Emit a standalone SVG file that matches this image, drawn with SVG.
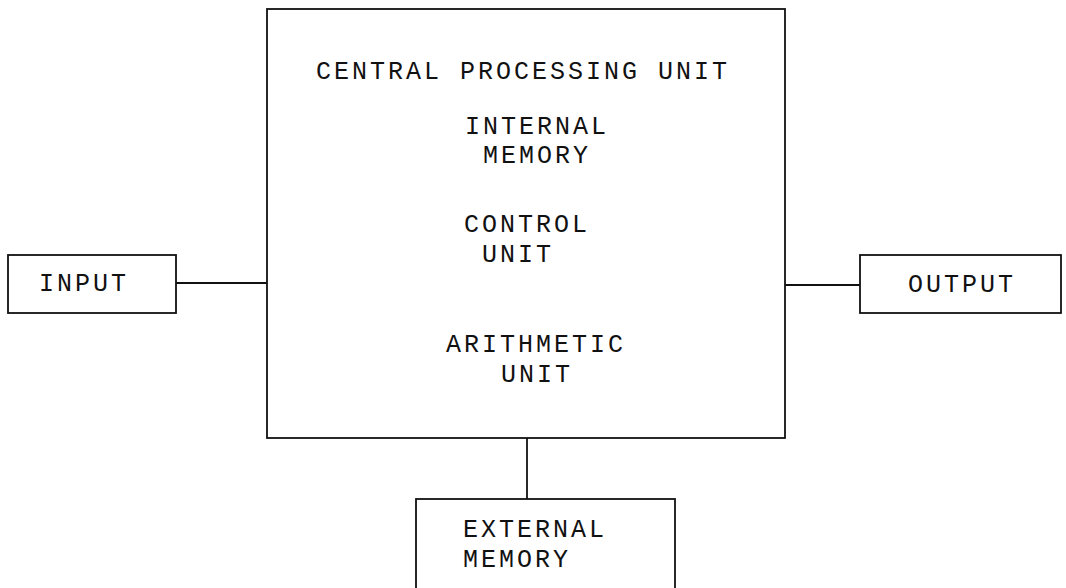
<svg xmlns="http://www.w3.org/2000/svg" width="1066" height="588" viewBox="0 0 1066 588">
<style>
.box{fill:#fff;stroke:#111;stroke-width:1.8}
.wire{fill:none;stroke:#111;stroke-width:1.8}
.t{font-family:"Liberation Mono","DejaVu Sans Mono",monospace;font-size:25px;letter-spacing:3px;fill:#111}
</style>
<rect width="1066" height="588" fill="#fff"/>
<g id="connectors">
<line class="wire" x1="176" y1="283" x2="267" y2="283"/>
<line class="wire" x1="785" y1="285" x2="860" y2="285"/>
<line class="wire" x1="527" y1="438" x2="527" y2="499"/>
</g>
<g id="cpu">
<rect class="box" x="267" y="9" width="518" height="429"/>
<text class="t" x="316" y="79">CENTRAL PROCESSING UNIT</text>
<text class="t" x="465" y="134">INTERNAL</text>
<text class="t" x="483" y="163">MEMORY</text>
<text class="t" x="464" y="232">CONTROL</text>
<text class="t" x="482" y="262">UNIT</text>
<text class="t" x="446" y="352">ARITHMETIC</text>
<text class="t" x="501" y="382">UNIT</text>
</g>
<g id="input">
<rect class="box" x="8" y="255" width="168" height="58"/>
<text class="t" x="39" y="291">INPUT</text>
</g>
<g id="output">
<rect class="box" x="860" y="255" width="201" height="58"/>
<text class="t" x="908" y="292">OUTPUT</text>
</g>
<g id="external-memory">
<rect class="box" x="416" y="499" width="259" height="100"/>
<text class="t" x="463" y="537">EXTERNAL</text>
<text class="t" x="463" y="567">MEMORY</text>
</g>
</svg>
